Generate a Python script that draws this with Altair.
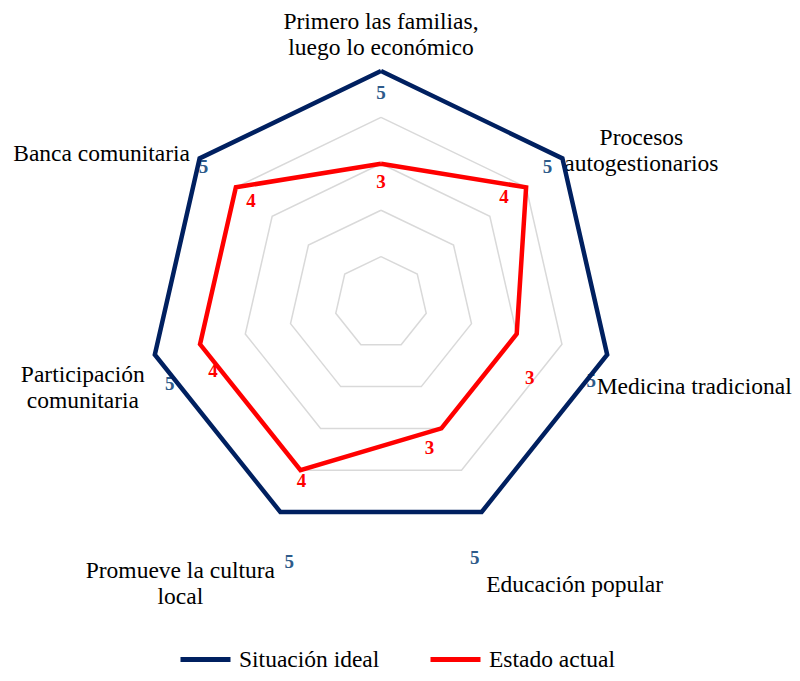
import math
import altair as alt
import pandas as pd

# ---------------- data ----------------
categories = [
    "Primero las familias,\nluego lo económico",
    "Procesos\nautogestionarios",
    "Medicina tradicional",
    "Educación popular",
    "Promueve la cultura\nlocal",
    "Participación\ncomunitaria",
    "Banca comunitaria",
]
ideal = [5, 5, 5, 5, 5, 5, 5]
actual = [3, 4, 3, 3, 4, 4, 4]
series_names = ["Situación ideal", "Estado actual"]
grid_levels = [1, 2, 3, 4, 5]
axis_max = 5

# label offsets in pixels (dx right, dy down) relative to the point / outer vertex
# (for category labels dy is the centre of the first text line)
cat_dx = [0, 79, 87, 93, -100, -72, -98]
cat_dy = [-49, -20, 32, 73, 59, 20, -4]
ideal_dx = [0, -15, -16, -7, 9, 15, 4]
ideal_dy = [22, 9, 26, 46, 50, 29, 9]
actual_dx = [0, -22, 13, -12, 1, 13, 15]
actual_dy = [18, 10, 44, 20, 11, 27, 14]

# ---------------- layout ----------------
UNIT = 46.4          # pixels per value unit
W, H = 784, 665
CX, CY = 373, 295    # centre inside plot area
FONT = "Liberation Serif"

n = len(categories)


def pos(k, r):
    a = 2 * math.pi * k / n
    return r * math.sin(a), r * math.cos(a)


line_rows = []
for s, vals in zip(series_names, [ideal, actual]):
    for i in range(n + 1):
        k = i % n
        x, y = pos(k, vals[k])
        line_rows.append(dict(series=s, order=i, x=x, y=y))
lines_df = pd.DataFrame(line_rows)

grid_rows = []
for lv in grid_levels:
    for i in range(n + 1):
        k = i % n
        x, y = pos(k, lv)
        grid_rows.append(dict(level=lv, order=i, x=x, y=y))
grid_df = pd.DataFrame(grid_rows)


def label_df(vals, dxs, dys, texts):
    rows = []
    for k in range(n):
        x, y = pos(k, vals[k])
        rows.append(dict(x=x + dxs[k] / UNIT, y=y - dys[k] / UNIT, t=texts[k]))
    return pd.DataFrame(rows)


cat_df = label_df([axis_max] * n, cat_dx, cat_dy, categories)
ideal_lab = label_df(ideal, ideal_dx, ideal_dy, [str(v) for v in ideal])
actual_lab = label_df(actual, actual_dx, actual_dy, [str(v) for v in actual])

xs = alt.Scale(domain=[-CX / UNIT, (W - CX) / UNIT], nice=False, zero=False)
ys = alt.Scale(domain=[-(H - CY) / UNIT, CY / UNIT], nice=False, zero=False)
X = alt.X("x:Q", scale=xs, axis=None)
Y = alt.Y("y:Q", scale=ys, axis=None)

grid = alt.Chart(grid_df).mark_line(color="#D9D9D9", strokeWidth=1.5).encode(
    x=X, y=Y, detail="level:N", order="order:Q"
)

cat_text = alt.Chart(cat_df).mark_text(
    font=FONT, fontSize=23.5, color="#000000", align="center", baseline="middle",
    lineBreak="\n", lineHeight=26
).encode(x=X, y=Y, text="t:N")

ideal_text = alt.Chart(ideal_lab).mark_text(
    font=FONT, fontSize=19, fontWeight="bold", color="#2E5B8A",
    align="center", baseline="middle"
).encode(x=X, y=Y, text="t:N")

actual_text = alt.Chart(actual_lab).mark_text(
    font=FONT, fontSize=19, fontWeight="bold", color="#FF0000",
    align="center", baseline="middle"
).encode(x=X, y=Y, text="t:N")

lines = alt.Chart(lines_df).mark_line(strokeWidth=4.5, strokeJoin="miter").encode(
    x=X, y=Y, order="order:Q",
    color=alt.Color(
        "series:N",
        scale=alt.Scale(domain=series_names, range=["#002060", "#FF0000"]),
        sort=series_names,
        legend=alt.Legend(
            title=None, orient="none", direction="horizontal",
            legendX=170, legendY=624,
            symbolType="stroke", symbolStrokeWidth=5, symbolSize=2500,
            labelFont=FONT, labelFontSize=23.5, labelColor="#000000",
            labelOffset=6, columnPadding=40, padding=0,
        ),
    ),
)

chart = alt.layer(grid, cat_text, ideal_text, actual_text, lines).properties(
    width=W, height=H, padding=0, autosize=alt.AutoSizeParams(type="none")
).configure_view(stroke=None)

chart.save("out.html", embed_options={"renderer": "svg", "actions": False})
